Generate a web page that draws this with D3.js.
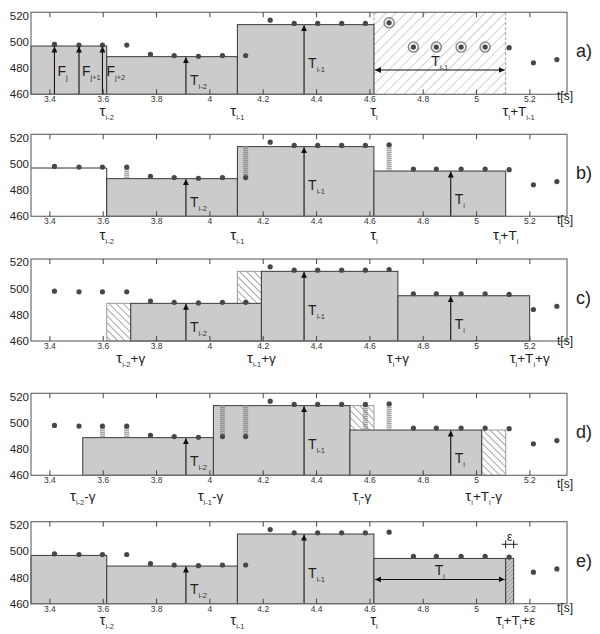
<!DOCTYPE html>
<html><head><meta charset="utf-8">
<script src="https://cdn.jsdelivr.net/npm/d3@7"></script>
<style>body{margin:0;background:#fff} text{font-family:"Liberation Sans",Arial,sans-serif}</style>
</head><body><svg id="c" width="600" height="634"></svg>
<script>
// ---------- data ----------
const times  = [3.419,3.511,3.599,3.690,3.779,3.868,3.959,4.049,4.136,4.228,4.318,4.406,4.496,4.585,4.674,4.765,4.851,4.944,5.034,5.124,5.215,5.303];
const values = [498,497.5,497.5,497.5,490.5,489.5,489,489.5,489.5,516.5,514,514,514,514,514.5,496,496,496,496,495.5,484,486.5];
const xTicks = [3.4,3.6,3.8,4,4.2,4.4,4.6,4.8,5,5.2];
const yTicks = [460,480,500,520];
const tau    = [3.615,4.105,4.617,5.111];
const levels = [496.8,488.7,513.1,494.5];
const gamma  = 0.09;
const eps    = 0.03;
const tArrowTimes = [3.912,4.355,4.905];
const tArrowNames = ["T_{i-2}","T_{i-1}","T_i"];
const fNames = ["F_j","F_{j+1}","F_{j+2}"];
const spanLevel = 478.5;
const panelNames = ["a)","b)","c)","d)","e)"];

// ---------- layout ----------
const X0 = 3.331, X1 = 5.341;
const x = d3.scaleLinear([X0,X1],[31,567]);
const H = 82;
const y = d3.scaleLinear([460,522.5],[H,0]);
const panelTops = [12.3,134.3,259,393.3,521.7];
const labelBase = [116,240,362.5,501,625];
const tsBase = [100,223.5,345,488,611.5];

const svg = d3.select("#c");
const defs = svg.append("defs");
function hatch(id, sp, ang, stroke, bg){
  const p = defs.append("pattern").attr("id",id).attr("patternUnits","userSpaceOnUse")
    .attr("width",sp).attr("height",sp).attr("patternTransform",`rotate(${ang})`);
  p.append("rect").attr("width",sp).attr("height",sp).attr("fill",bg);
  p.append("line").attr("x1",0.5).attr("y1",0).attr("x2",0.5).attr("y2",sp).attr("stroke",stroke).attr("stroke-width",1);
}
hatch("hA",7,45,"#d2d2d2","#fff");
hatch("hC",5,-45,"#a8a8a8","#fff");
hatch("hE",3,45,"#9a9a9a","#cacaca");
defs.append("marker").attr("id","ah").attr("viewBox","0 0 10 10").attr("refX",10).attr("refY",5)
  .attr("markerWidth",6).attr("markerHeight",6).attr("markerUnits","userSpaceOnUse")
  .attr("orient","auto-start-reverse").append("path").attr("d","M0,0L10,5L0,10Z").attr("fill","#111");

function rich(sel, str, size, subSize, tauSize){
  const t = sel.append("text").attr("fill","#1e1e1e");
  const parts=[]; let i=0;
  while(i<str.length){
    if(str[i]==="_"){
      if(str[i+1]==="{"){const j=str.indexOf("}",i);parts.push({t:str.slice(i+2,j),sub:true});i=j+1;}
      else {parts.push({t:str[i+1],sub:true});i+=2;}
    } else {let j=i;while(j<str.length&&str[j]!=="_")j++;parts.push({t:str.slice(i,j),sub:false});i=j;}
  }
  let inSub=false; const shift=Math.round(size*0.3);
  parts.forEach(p=>{
    if(p.sub){
      const ts=t.append("tspan").attr("font-size",subSize).attr("fill","#333").text(p.t);
      if(!inSub) ts.attr("dy",shift); inSub=true;
    } else {
      const chunks = p.t.split(/(τ)/).filter(s=>s.length);
      chunks.forEach((c,k)=>{
        const ts=t.append("tspan").attr("font-size", c==="τ"? (tauSize||size) : size).text(c);
        if(inSub && k===0) ts.attr("dy",-shift);
      });
      inSub=false;
    }
  });
  return t;
}

const specs = [
 { steps:[[X0,tau[0],levels[0],"gray"],[tau[0],tau[1],levels[1],"gray"],[tau[1],tau[2],levels[2],"gray"]],
   region:[tau[2],tau[3]], rings:[14,15,16,17,18], fArrows:true, tArr:[0,1],
   span:[tau[2],tau[3],"T_{i-1}"], stripes:[],
   labels:[[tau[0],"τ_{i-2}",0],[tau[1],"τ_{i-1}",0],[tau[2],"τ_i",0],[tau[3],"τ_i+T_{i-1}",13]] },
 { steps:[[X0,tau[0],levels[0],"line"],[tau[0],tau[1],levels[1],"gray"],[tau[1],tau[2],levels[2],"gray"],[tau[2],tau[3],levels[3],"gray"]],
   tArr:[0,1,2], stripes:[[3,1],[8,2],[14,3]],
   labels:[[tau[0],"τ_{i-2}",0],[tau[1],"τ_{i-1}",0],[tau[2],"τ_i",0],[tau[3],"τ_i+T_i",0]] },
 { steps:[[tau[0],tau[0]+gamma,levels[1],"hatch"],[tau[1],tau[1]+gamma,levels[2],"hatch"],
          [tau[0]+gamma,tau[1]+gamma,levels[1],"gray"],[tau[1]+gamma,tau[2]+gamma,levels[2],"gray"],[tau[2]+gamma,tau[3]+gamma,levels[3],"gray"]],
   tArr:[0,1,2], stripes:[],
   labels:[[tau[0]+gamma,"τ_{i-2}+γ",0],[tau[1]+gamma,"τ_{i-1}+γ",0],[tau[2]+gamma,"τ_i+γ",0],[tau[3]+gamma,"τ_i+T_i+γ",0]] },
 { steps:[[tau[2]-gamma,tau[2],levels[2],"hatch"],[tau[3]-gamma,tau[3],levels[3],"hatch"],
          [tau[0]-gamma,tau[1]-gamma,levels[1],"gray"],[tau[1]-gamma,tau[2]-gamma,levels[2],"gray"],[tau[2]-gamma,tau[3]-gamma,levels[3],"gray"]],
   tArr:[0,1,2], stripes:[[2,1],[3,1],[7,2],[8,2],[13,3],[14,3]],
   labels:[[tau[0]-gamma,"τ_{i-2}-γ",0],[tau[1]-gamma,"τ_{i-1}-γ",-3],[tau[2]-gamma,"τ_i-γ",12],[tau[3]-gamma,"τ_i+T_i-γ",2]] },
 { steps:[[X0,tau[0],levels[0],"gray"],[tau[0],tau[1],levels[1],"gray"],[tau[1],tau[2],levels[2],"gray"],[tau[2],tau[3],levels[3],"gray"],[tau[3],tau[3]+eps,levels[3],"dark"]],
   tArr:[0,1], span:[tau[2],tau[3],"T_i"], stripes:[], epsMark:true,
   labels:[[tau[3]+eps,"τ_i+T_i+ε",2],[tau[0],"τ_{i-2}",0],[tau[1],"τ_{i-1}",0],[tau[2],"τ_i",0]] }
];
const tLabelBase = [72.5,56,70];

specs.forEach((s,pi)=>{
  const g = svg.append("g").attr("transform",`translate(0,${panelTops[pi]})`);
  if(s.region){
    g.append("rect").attr("x",x(s.region[0])).attr("y",0).attr("width",x(s.region[1])-x(s.region[0])).attr("height",H).attr("fill","url(#hA)");
    s.region.forEach(t=>g.append("line").attr("x1",x(t)).attr("x2",x(t)).attr("y1",0).attr("y2",H)
      .attr("stroke","#999").attr("stroke-dasharray","3,2"));
  }
  s.steps.forEach(([a,b,lv,k])=>{
    const x0=x(a), x1=x(b), yt=y(lv);
    if(k==="line"){
      g.append("path").attr("d",`M${x0},${yt}H${x1}V${H}`).attr("fill","none").attr("stroke","#333");
    } else {
      g.append("rect").attr("x",x0).attr("y",yt).attr("width",x1-x0).attr("height",H-yt)
        .attr("fill", k==="gray"?"#cbcbcb": k==="hatch"?"url(#hC)":"url(#hE)")
        .attr("stroke", k==="hatch"?"#9a9a9a":"#3a3a3a").attr("stroke-width",1);
    }
  });
  s.stripes.forEach(([ti,li])=>{
    const xx=x(times[ti]);
    const ya=Math.min(y(values[ti]),y(levels[li])), yb=Math.max(y(values[ti]),y(levels[li]));
    const ys=d3.range(Math.round(ya)+0.5, yb, 2);
    g.selectAll(null).data(ys).join("line").attr("x1",xx-2.5).attr("x2",xx+2.5)
      .attr("y1",d=>d).attr("y2",d=>d).attr("stroke","#7d7d7d").attr("stroke-width",1);
  });
  g.selectAll("circle.d").data(times).join("circle").attr("class","d")
    .attr("cx",d=>x(d)).attr("cy",(d,i)=>y(values[i])).attr("r",2.6).attr("fill","#474747");
  (s.rings||[]).forEach(i=>{
    g.append("circle").attr("cx",x(times[i])).attr("cy",y(values[i])).attr("r",5).attr("fill","none")
      .attr("stroke","#8c8c8c").attr("stroke-width",1.6);
  });
  if(s.fArrows){
    [0,1,2].forEach(i=>{
      const xx=x(times[i]);
      g.append("line").attr("x1",xx).attr("x2",xx).attr("y1",H).attr("y2",y(levels[0])+0.5)
        .attr("stroke","#111").attr("stroke-width",1.1).attr("marker-end","url(#ah)");
      rich(g,fNames[i],14,7.5).attr("x",xx+(i===2?4:3)).attr("y",63.5);
    });
  }
  s.tArr.forEach(i=>{
    const xx=x(tArrowTimes[i]);
    g.append("line").attr("x1",xx).attr("x2",xx).attr("y1",H).attr("y2",y(levels[i+1])+0.5)
      .attr("stroke","#111").attr("stroke-width",1.1).attr("marker-end","url(#ah)");
    rich(g,tArrowNames[i],14,7.5).attr("x",xx+4).attr("y",tLabelBase[i]);
  });
  if(s.span){
    const [a,b,nm]=s.span;
    g.append("line").attr("x1",x(a)+1).attr("x2",x(b)-1).attr("y1",y(spanLevel)).attr("y2",y(spanLevel))
      .attr("stroke","#111").attr("stroke-width",1.1).attr("marker-start","url(#ah)").attr("marker-end","url(#ah)");
    rich(g,nm,14,7.5).attr("x",(x(a)+x(b))/2).attr("y",y(spanLevel)-4).attr("text-anchor","middle");
  }
  if(s.epsMark){
    const xa=x(tau[3]), xb=x(tau[3]+eps), yy=22.6;
    g.append("path").attr("d",`M${xa-4},${yy}H${xb+4}M${xa},${yy-4}V${yy+4}M${xb},${yy-4}V${yy+4}`)
      .attr("stroke","#222").attr("fill","none");
    g.append("text").attr("x",(xa+xb)/2).attr("y",yy-3).attr("text-anchor","middle")
      .attr("font-size",12).attr("fill","#222").text("ε");
  }
  g.append("rect").attr("x",x(X0)).attr("y",0).attr("width",x(X1)-x(X0)).attr("height",H)
    .attr("fill","none").attr("stroke","#6e6e6e").attr("stroke-width",1.2);
  const tTop = g.append("g").call(d3.axisBottom(x).tickValues(xTicks).tickSize(5).tickFormat(""));
  const tBot = g.append("g").attr("transform",`translate(0,${H})`).call(d3.axisTop(x).tickValues(xTicks).tickSize(5).tickFormat(""));
  [tTop,tBot].forEach(a=>{a.select(".domain").remove();a.selectAll("line").attr("stroke","#444");});
  const xl = g.append("g").attr("transform",`translate(0,${H})`)
    .call(d3.axisBottom(x).tickValues(xTicks).tickSize(0).tickPadding(2).tickFormat(d=>String(d)));
  xl.select(".domain").remove();
  xl.selectAll("text").attr("font-size",8.5).attr("fill","#333").attr("font-family","Liberation Sans, Arial");
  const yl = g.append("g").attr("transform",`translate(${x(X0)},0)`)
    .call(d3.axisLeft(y).tickValues(yTicks).tickSize(0).tickPadding(2));
  yl.select(".domain").remove();
  yl.selectAll("text").attr("font-size",11.5).attr("fill","#222").attr("font-family","Liberation Sans, Arial");
  s.labels.forEach(([t,str,dx])=>{
    rich(svg,str,13.5,7.5,15).attr("x",x(t)+dx).attr("y",labelBase[pi]).attr("text-anchor","middle");
  });
  svg.append("text").attr("x",557).attr("y",tsBase[pi]).attr("font-size",12).attr("fill","#222").text("t[s]");
  svg.append("text").attr("x",576).attr("y",panelTops[pi]+45).attr("font-size",18).attr("fill","#222").text(panelNames[pi]);
});
</script></body></html>
